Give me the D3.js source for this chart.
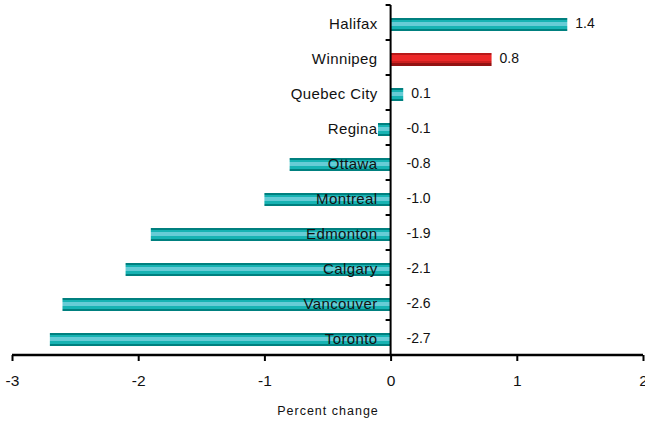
<html>
<head>
<meta charset="utf-8">
<script src="https://cdnjs.cloudflare.com/ajax/libs/d3/7.8.5/d3.min.js"></script>
<style>
  body { margin: 0; background: #fff; }
  text { font-family: "Liberation Sans", Arial, sans-serif; fill: #111; }
</style>
</head>
<body>
<div id="chartContainer"></div>
<script>
  // city names, top to bottom
  var cities = ["Halifax", "Winnipeg", "Quebec City", "Regina", "Ottawa",
                "Montreal", "Edmonton", "Calgary", "Vancouver", "Toronto"];
  // percent change
  var values = [1.4, 0.8, 0.1, -0.1, -0.8, -1.0, -1.9, -2.1, -2.6, -2.7];
  // highlighted city
  var highlight = ["Winnipeg"];
  var xTicks = [-3, -2, -1, 0, 1, 2];

  var width = 645, height = 427;
  var svg = d3.select("#chartContainer").append("svg")
    .attr("width", width)
    .attr("height", height);

  var x = d3.scaleLinear().domain([-3, 2]).range([12, 643]);
  var y = d3.scaleBand().domain(cities).range([5, 355]);
  var x0 = x(0);
  var barH = 13;

  // plain hyphen for negatives, as in the original
  var fmt1 = function (v) { return d3.format(".1f")(v).replace("\u2212", "-"); };
  var fmt0 = function (v) { return d3.format("d")(v).replace("\u2212", "-"); };

  // striped fills made from hard stop gradients
  var defs = svg.append("defs");
  function stripes(id, stops) {
    var g = defs.append("linearGradient").attr("id", id)
      .attr("x1", 0).attr("y1", 0).attr("x2", 0).attr("y2", 1);
    stops.forEach(function (s) {
      g.append("stop").attr("offset", s[0]).attr("stop-color", s[2]);
      g.append("stop").attr("offset", s[1]).attr("stop-color", s[2]);
    });
  }
  stripes("teal", [[0, 0.14, "#00807f"], [0.14, 0.3, "#17b3b3"], [0.3, 0.64, "#66ccd6"],
                   [0.64, 0.82, "#17b3b3"], [0.82, 1, "#00807f"]]);
  stripes("red", [[0, 0.15, "#b81818"], [0.15, 0.6, "#ec2828"], [0.6, 0.8, "#cc1f1f"],
                  [0.8, 1, "#941212"]]);

  var data = cities.map(function (c, i) { return { city: c, value: values[i] }; });

  // bars
  svg.selectAll("rect.bar")
    .data(data)
    .enter()
    .append("rect")
      .attr("class", "bar")
      .attr("x", function (d) { return Math.min(x(d.value), x0); })
      .attr("width", function (d) { return Math.abs(x(d.value) - x0); })
      .attr("y", function (d) { return y(d.city) + y.bandwidth() / 2 - barH / 2 + 2; })
      .attr("height", barH)
      .style("fill", function (d) { return highlight.indexOf(d.city) >= 0 ? "url(#red)" : "url(#teal)"; });

  // city labels
  svg.selectAll("text.city")
    .data(data)
    .enter()
    .append("text")
      .attr("class", "city")
      .attr("x", x0 - 13)
      .attr("y", function (d) { return y(d.city) + y.bandwidth() / 2 + 1.5; })
      .attr("dy", "0.35em")
      .attr("text-anchor", "end")
      .style("font-size", "15px")
      .style("letter-spacing", "0.4px")
      .text(function (d) { return d.city; });

  // value labels
  svg.selectAll("text.val")
    .data(data)
    .enter()
    .append("text")
      .attr("class", "val")
      .attr("x", function (d) { return d.value > 0 ? x(d.value) + 8 : x0 + 28; })
      .attr("y", function (d) { return y(d.city) + y.bandwidth() / 2 + 0.5; })
      .attr("dy", "0.35em")
      .attr("text-anchor", function (d) { return d.value > 0 ? "start" : "middle"; })
      .style("font-size", "14px")
      .text(function (d) { return fmt1(d.value); });

  // y axis: vertical line at zero with ticks between categories
  svg.append("line")
    .attr("x1", x0).attr("x2", x0).attr("y1", 5).attr("y2", 355)
    .style("stroke", "#000").style("stroke-width", 2);
  svg.selectAll("line.ytick")
    .data(cities)
    .enter()
    .append("line")
      .attr("class", "ytick")
      .attr("x1", x0 - 5).attr("x2", x0)
      .attr("y1", function (d) { return y(d); })
      .attr("y2", function (d) { return y(d); })
      .style("stroke", "#000").style("stroke-width", 2);

  // x axis
  var xAxis = d3.axisBottom(x).tickValues(xTicks).tickSize(6).tickPadding(14)
    .tickFormat(fmt0);
  var gx = svg.append("g")
    .attr("transform", "translate(0,355)")
    .call(xAxis);
  gx.select(".domain").style("stroke", "#000").style("stroke-width", 2.5)
    .attr("d", "M" + x(-3) + ",0H" + x(2));
  gx.selectAll(".tick line").style("stroke", "#000").style("stroke-width", 2);
  gx.selectAll(".tick text")
    .style("font-family", "'Liberation Sans', Arial, sans-serif")
    .style("font-size", "15.5px")
    .style("fill", "#111");

  // axis title
  svg.append("text")
    .attr("x", 328)
    .attr("y", 415)
    .attr("text-anchor", "middle")
    .style("font-size", "12.5px")
    .style("letter-spacing", "1px")
    .text("Percent change");
</script>
</body>
</html>
